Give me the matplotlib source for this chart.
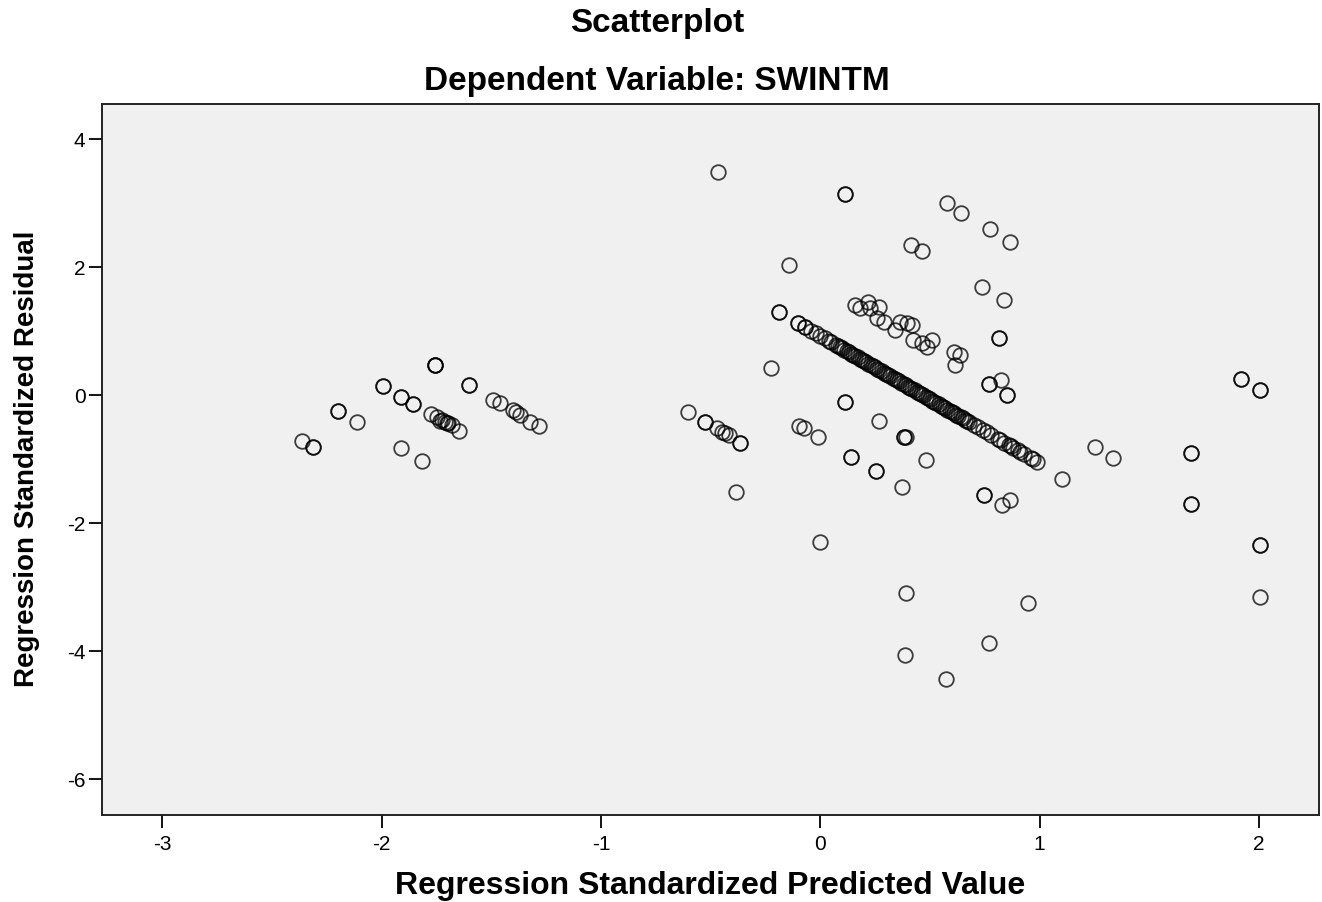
import matplotlib
matplotlib.use('Agg')
import matplotlib.pyplot as plt
import numpy as np

plt.rcParams['font.family'] = ['Liberation Sans', 'DejaVu Sans']

# Left group of cases
left_x = [-2.363, -2.313, -2.313, -2.197, -2.197, -2.113, -1.994, -1.994, -1.912, -1.912,
          -1.859, -1.859, -1.756, -1.756, -1.756, -1.912, -1.816, -1.774, -1.748, -1.725,
          -1.710, -1.695, -1.679, -1.735, -1.700, -1.645, -1.601, -1.601, -1.490, -1.459,
          -1.399, -1.385, -1.368, -1.322, -1.284]
left_y = [-0.714, -0.813, -0.813, -0.245, -0.245, -0.420, 0.150, 0.150, -0.022, -0.022,
          -0.136, -0.136, 0.469, 0.469, 0.469, -0.819, -1.022, -0.292, -0.344, -0.386,
          -0.413, -0.438, -0.464, -0.400, -0.430, -0.558, 0.156, 0.156, -0.073, -0.125,
          -0.230, -0.260, -0.308, -0.413, -0.480]

# Cases just left of zero
mid_x = [-0.603, -0.524, -0.524, -0.471, -0.448, -0.432, -0.418, -0.368, -0.368, -0.383,
         -0.225, -0.186, -0.186, -0.141, -0.465, -0.099, -0.076, -0.012, 0.000]
mid_y = [-0.256, -0.413, -0.413, -0.516, -0.569, -0.590, -0.620, -0.740, -0.740, -1.520,
         0.420, 1.306, 1.306, 2.030, 3.490, -0.480, -0.516, -0.656, -2.297]

# The dense diagonal band
band_x = [-0.10, -0.10, -0.07, -0.07, -0.04, -0.02, 0.00, 0.04, 0.07, 0.09, 0.11, 0.13,
          0.15, 0.17, 0.19, 0.21, 0.23, 0.25, 0.27, 0.29, 0.31, 0.33, 0.35, 0.37, 0.39,
          0.41, 0.43, 0.45, 0.47, 0.49, 0.51, 0.53, 0.55, 0.57, 0.59, 0.61, 0.63, 0.65,
          0.67, 0.70, 0.74, 0.78, 0.81, 0.84, 0.86, 0.88, 0.90, 0.93, 0.96, 0.99]
band_y = [1.129, 1.129, 1.069, 1.069, 1.010, 0.970, 0.930, 0.850, 0.791, 0.751, 0.711, 0.671,
          0.632, 0.592, 0.552, 0.512, 0.472, 0.433, 0.393, 0.353, 0.313, 0.273, 0.234, 0.194, 0.154,
          0.114, 0.074, 0.035, -0.005, -0.045, -0.085, -0.125, -0.165, -0.204, -0.244, -0.284, -0.324, -0.364,
          -0.403, -0.463, -0.543, -0.622, -0.682, -0.742, -0.781, -0.821, -0.861, -0.921, -0.980, -1.040]
band2_x = [0.02, 0.05, 0.08, 0.10, 0.12, 0.14, 0.16, 0.18, 0.20, 0.22, 0.24, 0.26, 0.28,
           0.30, 0.32, 0.34, 0.36, 0.38, 0.40, 0.42, 0.44, 0.46, 0.48, 0.50, 0.52, 0.54,
           0.56, 0.58, 0.60, 0.62, 0.64, 0.66, 0.68, 0.72, 0.76, 0.82, 0.87, 0.91, 0.97]
band2_y = [0.890, 0.831, 0.771, 0.731, 0.691, 0.651, 0.612, 0.572, 0.532, 0.492, 0.452, 0.413, 0.373,
           0.333, 0.293, 0.253, 0.214, 0.174, 0.134, 0.094, 0.054, 0.015, -0.025, -0.065, -0.105, -0.145,
           -0.184, -0.224, -0.264, -0.304, -0.344, -0.383, -0.423, -0.503, -0.582, -0.702, -0.801, -0.881, -1.000]

# Cluster above the band
upper_x = [0.160, 0.182, 0.220, 0.228, 0.266, 0.259, 0.289, 0.342, 0.365, 0.395,
           0.418, 0.425, 0.464, 0.487, 0.509, 0.608, 0.638, 0.616, 0.816, 0.816,
           0.768, 0.768, 0.824, 0.852, 0.852]
upper_y = [1.411, 1.359, 1.463, 1.359, 1.384, 1.203, 1.150, 1.020, 1.150, 1.125,
           1.098, 0.864, 0.813, 0.759, 0.864, 0.681, 0.630, 0.473, 0.890, 0.890,
           0.177, 0.177, 0.239, 0.005, 0.005]

# High residuals
high_x = [0.111, 0.111, 0.578, 0.643, 0.415, 0.464, 0.772, 0.863, 0.737, 0.840]
high_y = [3.140, 3.140, 3.000, 2.853, 2.348, 2.255, 2.594, 2.400, 1.697, 1.484]

# Lower and right side cases
low_x = [0.111, 0.111, 0.266, 0.380, 0.380, 0.390, 0.141, 0.141, 0.255, 0.255,
         0.483, 0.373, 0.745, 0.745, 0.828, 0.863, 1.102, 1.251, 1.335, 1.920,
         1.920, 2.003, 2.003, 1.692, 1.692, 1.692, 1.692, 2.003, 2.003, 2.003,
         0.391, 0.947, 0.771, 0.385, 0.573]
low_y = [-0.100, -0.100, -0.410, -0.647, -0.647, -0.660, -0.960, -0.960, -1.190, -1.190,
         -1.020, -1.438, -1.553, -1.553, -1.714, -1.636, -1.313, -0.813, -0.975, 0.250,
         0.250, 0.083, 0.083, -0.897, -0.897, -1.703, -1.703, -2.339, -2.339, -3.147,
         -3.094, -3.250, -3.866, -4.053, -4.438]

pred = np.concatenate([left_x, mid_x, band_x, band2_x, upper_x, high_x, low_x])
resid = np.concatenate([left_y, mid_y, band_y, band2_y, upper_y, high_y, low_y])

x_ticks = [-3, -2, -1, 0, 1, 2]
y_ticks = [-6, -4, -2, 0, 2, 4]

fig = plt.figure(figsize=(13.22, 9.02), dpi=100)
ax = fig.add_axes([0.0768, 0.0965, 0.9209, 0.7882])
ax.set_facecolor('#f0f0f0')

ax.plot(pred, resid, linestyle='none', marker='o', markersize=10.5,
        markerfacecolor='none', markeredgecolor=(0, 0, 0, 0.75), markeredgewidth=1.3)

ax.set_xlim(-3.277, 2.274)
ax.set_ylim(-6.56, 4.55)
ax.set_xticks(x_ticks)
ax.set_yticks(y_ticks)
ax.set_xticklabels([str(t) for t in x_ticks])
ax.set_yticklabels([str(t) for t in y_ticks])
ax.tick_params(axis='both', direction='out', length=9.5, width=1.3, labelsize=15, colors='black')
ax.tick_params(axis='x', pad=5)
ax.tick_params(axis='y', pad=2)
for s in ax.spines.values():
    s.set_linewidth(1.4)
    s.set_color('#222222')

fig.text(0.497, 0.9745, 'Scatterplot', ha='center', va='center', fontsize=24, fontweight='bold')
fig.text(0.497, 0.910, 'Dependent Variable: SWINTM', ha='center', va='center', fontsize=24, fontweight='bold')
fig.text(0.537, 0.0177, 'Regression Standardized Predicted Value', ha='center', va='center',
         fontsize=23, fontweight='bold')
fig.text(0.0204, 0.491, 'Regression Standardized Residual', ha='center', va='center',
         rotation=90, fontsize=20, fontweight='bold')

plt.savefig('out.png', dpi=100)
